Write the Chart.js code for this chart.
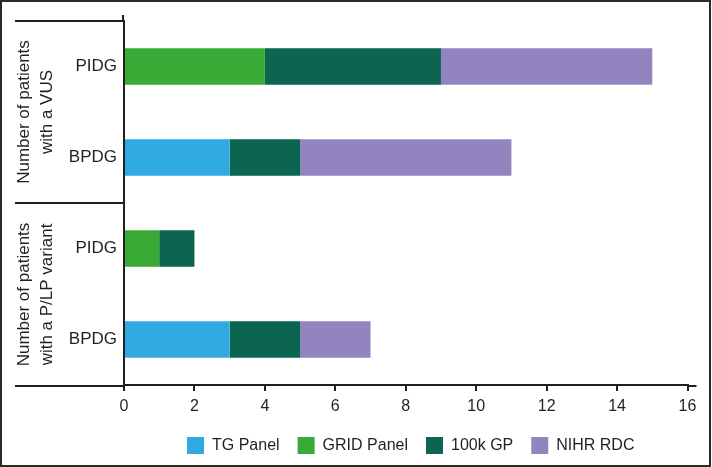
<!DOCTYPE html>
<html>
<head>
<meta charset="utf-8">
<script src="https://cdn.jsdelivr.net/npm/chart.js@4.4.1/dist/chart.umd.min.js"></script>
<style>
  html, body { margin: 0; padding: 0; background: #fff; }
  #wrap { width: 712px; height: 467px; position: relative; }
</style>
</head>
<body>
<div id="wrap"><canvas id="chart"></canvas></div>
<script>
// categories, top to bottom
const categories = ['PIDG', 'BPDG', 'PIDG', 'BPDG'];
// group labels for pairs of rows
const groupLabels = [
    ['Number of patients', 'with a VUS'],
    ['Number of patients', 'with a P/LP variant']
];
const seriesNames = ['TG Panel', 'GRID Panel', '100k GP', 'NIHR RDC'];
const tgPanel   = [0, 3, 0, 3];
const gridPanel = [4, 0, 1, 0];
const gp100k    = [5, 2, 1, 2];
const nihrRdc   = [6, 6, 0, 2];
const xTicks = [0, 2, 4, 6, 8, 10, 12, 14, 16];

const ink = '#231f20';
const colors = ['#30abe1', '#39aa35', '#0b6550', '#9285bf'];
const family = '"Liberation Sans", Arial, Helvetica, sans-serif';

Chart.defaults.font.family = family;
Chart.defaults.color = ink;

const decorations = {
    id: 'decorations',
    afterLayout(chart) {
        // nudge legend to sit where the original has it
        chart.legend.left += 5;
        chart.legend.right += 5;
    },
    afterDraw(chart) {
        const ctx = chart.ctx;
        const area = chart.chartArea;
        const y = chart.scales.y;
        ctx.save();
        ctx.strokeStyle = ink;
        ctx.lineWidth = 2;

        // axis line overhangs
        ctx.beginPath();
        ctx.moveTo(area.left - 1, area.top);
        ctx.lineTo(area.left - 1, area.top - 6);
        ctx.moveTo(area.right, area.bottom + 1);
        ctx.lineTo(area.right + 9, area.bottom + 1);
        ctx.stroke();

        // group separators
        const mid = (y.getPixelForValue(1) + y.getPixelForValue(2)) / 2;
        const seps = [area.top, mid, area.bottom + 1];
        ctx.beginPath();
        seps.forEach(s => {
            ctx.moveTo(15, s);
            ctx.lineTo(area.left, s);
        });
        ctx.stroke();

        // group labels (rotated)
        ctx.fillStyle = ink;
        ctx.font = '17px ' + family;
        ctx.textAlign = 'center';
        ctx.textBaseline = 'alphabetic';
        groupLabels.forEach((lines, g) => {
            const yc = (seps[g] + seps[g + 1]) / 2;
            lines.forEach((line, i) => {
                ctx.save();
                ctx.translate(29 + i * 23.3, yc);
                ctx.rotate(-Math.PI / 2);
                ctx.fillText(line, 0, 0);
                ctx.restore();
            });
        });

        // outer frame
        ctx.strokeStyle = '#2a2a2a';
        ctx.strokeRect(1, 1, 709, 465);
        ctx.restore();
    }
};

new Chart(document.getElementById('chart'), {
    type: 'bar',
    data: {
        labels: categories,
        datasets: [tgPanel, gridPanel, gp100k, nihrRdc].map((d, i) => ({
            label: seriesNames[i],
            data: d,
            backgroundColor: colors[i],
            borderWidth: 0,
            categoryPercentage: 1,
            barPercentage: 0.4
        }))
    },
    options: {
        indexAxis: 'y',
        responsive: true,
        maintainAspectRatio: false,
        animation: false,
        layout: { padding: { left: 0, right: 24.5, top: 21, bottom: 3 } },
        plugins: {
            tooltip: { enabled: false },
            legend: {
                position: 'bottom',
                fullSize: false,
                labels: {
                    boxWidth: 17,
                    boxHeight: 17,
                    padding: 18,
                    color: ink,
                    font: { size: 16 }
                }
            }
        },
        scales: {
            x: {
                stacked: true,
                min: 0,
                max: 16,
                afterBuildTicks: s => { s.ticks = xTicks.map(v => ({ value: v })); },
                afterFit: s => { s.height = 34; },
                grid: {
                    display: true,
                    drawOnChartArea: false,
                    drawTicks: true,
                    tickLength: 6,
                    color: ink,
                    lineWidth: 2
                },
                border: { display: true, color: ink, width: 2 },
                ticks: { padding: 6, color: ink, font: { size: 16 }, maxRotation: 0 }
            },
            y: {
                stacked: true,
                afterFit: s => { s.width = 124; },
                grid: { display: false, drawTicks: false },
                border: { display: true, color: ink, width: 2 },
                ticks: { padding: 7, color: ink, font: { size: 17 } }
            }
        }
    },
    plugins: [decorations]
});
</script>
</body>
</html>
